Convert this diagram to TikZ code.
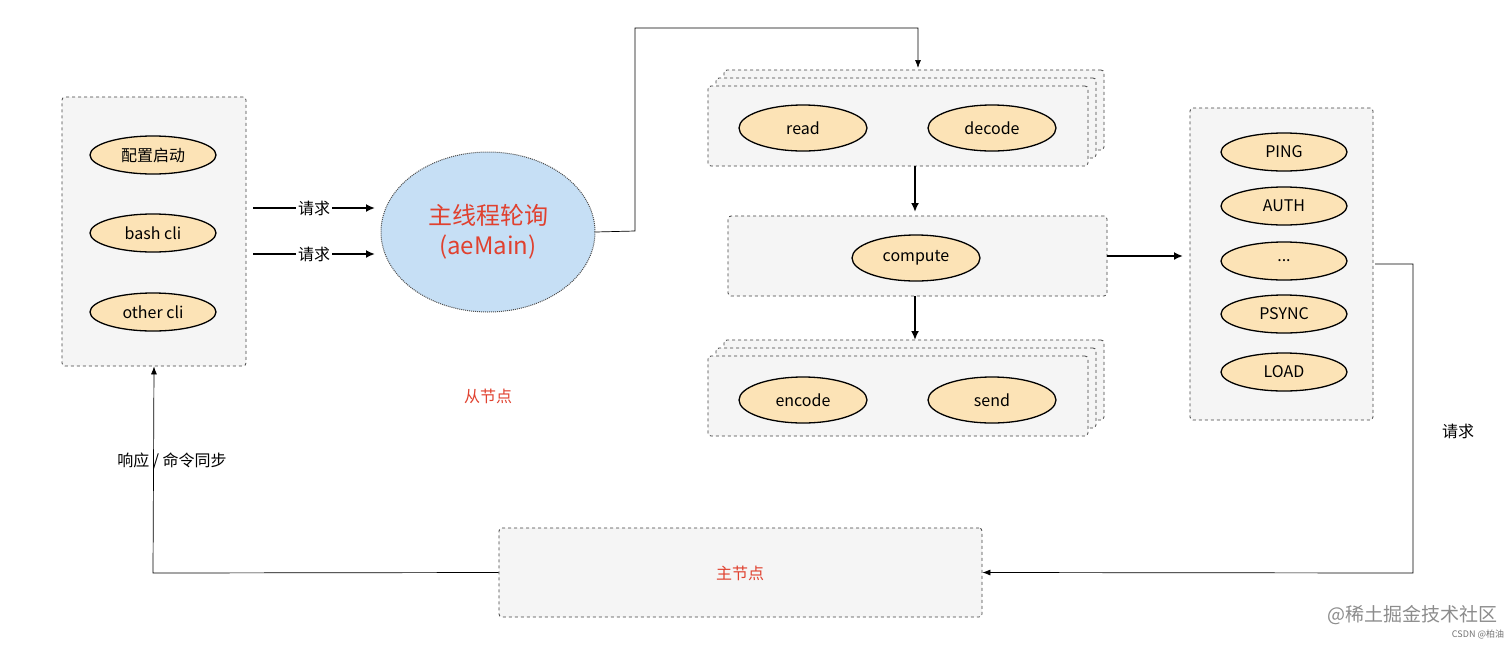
\documentclass[tikz,border=0pt]{standalone}
\usepackage{fontspec}
\setmainfont{Noto Sans CJK SC}
\usetikzlibrary{arrows.meta,shapes.geometric}
\definecolor{boxf}{HTML}{F5F5F5}
\definecolor{ellf}{HTML}{FCE3B6}
\definecolor{bluef}{HTML}{C6DFF5}
\definecolor{redt}{HTML}{E0412F}
\begin{document}
\begin{tikzpicture}[x=1pt,y=-1pt,
  box/.style={draw=black!75,dashed,rounded corners=3pt,fill=boxf,line width=0.8pt},
  ell/.style={draw=black,ellipse,fill=ellf,line width=1.3pt,minimum width=126pt,minimum height=38pt,font=\fontsize{16}{16}\selectfont,inner sep=0pt},
  bell/.style={ell,minimum width=128pt,minimum height=46pt},
  lbl/.style={font=\fontsize{16}{16}\selectfont},
  thk/.style={line width=2pt,-{Latex[length=9pt,width=8pt]}},
  thn/.style={line width=0.8pt,-{Latex[length=8pt,width=6pt]}}]
\useasboundingbox (0,0) rectangle (1512,646);
% left box
\node[box,minimum width=184pt,minimum height=269pt] (L) at (154,231.5) {};
\node[ell] (c1) at (153,155) {配置启动};
\node[ell] (c2) at (153,233) {bash cli};
\node[ell] (c3) at (153,312) {other cli};
% main ellipse
\node[draw=black!70,densely dotted,ellipse,fill=bluef,minimum width=214pt,minimum height=160pt,line width=1pt] (M) at (488,232) {};
\node[text=redt,font=\fontsize{24}{24}\selectfont,align=center] (Mt) at (488,232) {主线程轮询\\[6pt](aeMain)};
\coordinate (r1s) at (253,208); \coordinate (r1e) at (375,208);
\coordinate (r2s) at (253,254); \coordinate (r2e) at (375,254);
\draw[thk] (r1s) -- (r1e); \draw[thk] (r2s) -- (r2e);
\node[lbl,fill=white,inner sep=2pt] at (314,208) {请求};
\node[lbl,fill=white,inner sep=2pt] at (314,254) {请求};
\node[text=redt,lbl] at (488,396) {从节点};
% stacked top
\node[box,minimum width=380pt,minimum height=80pt] (T3) at (914,110) {};
\node[box,minimum width=380pt,minimum height=80pt] (T2) at (906,118) {};
\node[box,minimum width=380pt,minimum height=80pt] (T) at (898,126) {};
\node[bell] (rd) at (803,128) {read};
\node[bell] (dc) at (992,128) {decode};
% compute
\node[box,minimum width=379pt,minimum height=80pt] (C) at (917.5,256) {};
\node[bell] (cp) at (916,258) {compute};
% stacked bottom
\node[box,minimum width=380pt,minimum height=80pt] (B3) at (914,380) {};
\node[box,minimum width=380pt,minimum height=80pt] (B2) at (906,388) {};
\node[box,minimum width=380pt,minimum height=80pt] (B) at (898,396) {};
\node[bell] (en) at (803,400) {encode};
\node[bell] (sd) at (992,400) {send};
% right box
\node[box,minimum width=183pt,minimum height=312pt] (R) at (1281.5,264) {};
\node[ell] (p1) at (1284,152) {PING};
\node[ell] (p2) at (1284,206) {AUTH};
\node[ell] (p3) at (1284,261) {...};
\node[ell] (p4) at (1284,314) {PSYNC};
\node[ell] (p5) at (1284,372) {LOAD};
% master
\node[box,minimum width=483pt,minimum height=89pt] (S) at (740.5,572.5) {};
\node[text=redt,lbl] at (740,573) {主节点};
% connectors
\draw[thn,line width=0.7pt] (M.east) -- (635,231) -- (635,28) -- (918,28) -- (918,68);
\draw[thk] (915,166) -- (915,212);
\draw[thk] (915,296) -- (915,340);
\draw[thk] (C.east) -- (1183,256);
\draw[thn,line width=0.7pt] (1375,264) -- (1413,264) -- (1413,573) -- (S.east);
\node[lbl] at (1458,431) {请求};
\draw[thn,line width=0.7pt] (S.west) -- (153,573) -- (L.south);
\node[lbl] at (172,461) {响应 / 命令同步};
% watermark
\node[text=black!45,font=\fontsize{19}{19}\selectfont] at (1412,615) {@稀土掘金技术社区};
\node[text=black!55,font=\fontsize{9}{9}\selectfont] at (1478,634) {CSDN @柏油};
\end{tikzpicture}
\end{document}
